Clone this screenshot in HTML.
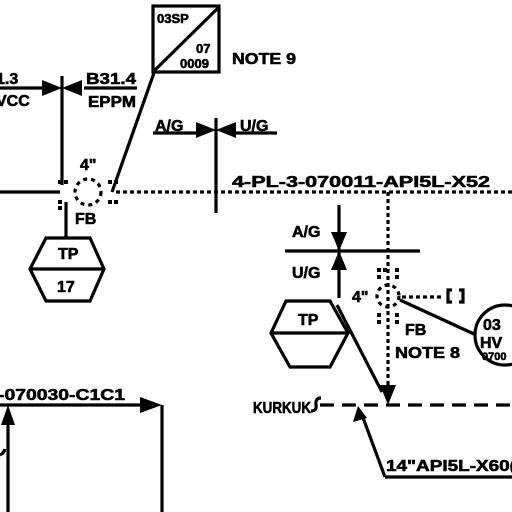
<!DOCTYPE html>
<html><head><style>
body{margin:0;background:#fff;}
svg{display:block;}
text{font-family:"Liberation Sans Narrow","Liberation Sans",sans-serif;font-weight:bold;fill:#000;stroke:#000;stroke-width:0.6;}
</style></head><body>
<svg width="512" height="512" viewBox="0 0 512 512" xmlns="http://www.w3.org/2000/svg">
<g stroke="#000" stroke-width="3.2" fill="none">
<line x1="0" y1="88" x2="44" y2="88"/>
<line x1="84" y1="88" x2="137" y2="88"/>
<line x1="62" y1="76" x2="62" y2="185"/>
<line x1="0" y1="192" x2="60" y2="192"/>
<line x1="116" y1="192" x2="512" y2="192" stroke-dasharray="4,3"/>
<circle cx="88" cy="192" r="13" stroke-dasharray="4,4"/>
<line x1="112" y1="192" x2="155" y2="70"/>
<rect x="153" y="6" width="66" height="66"/>
<line x1="155" y1="70" x2="218" y2="8"/>
<line x1="66" y1="202" x2="66" y2="238"/>
<polygon points="46,238 90,238 104,269 90,301 46,301 30,269"/>
<line x1="30" y1="269" x2="104" y2="269"/>
<line x1="216" y1="118" x2="216" y2="213"/>
<line x1="153" y1="133" x2="196" y2="133"/>
<line x1="236" y1="133" x2="277" y2="133"/>
<line x1="339" y1="205" x2="339" y2="298"/>
<line x1="285" y1="251" x2="420" y2="251"/>
<line x1="388" y1="192" x2="388" y2="392" stroke-dasharray="4,3"/>
<circle cx="388" cy="296" r="11" stroke-dasharray="4,4"/>
<line x1="402" y1="297" x2="442" y2="297" stroke-dasharray="4,3"/>
<path d="M452,290 h-4 v12 h4 M459,290 h4 v12 h-4"/>
<line x1="400" y1="300" x2="474" y2="334"/>
<circle cx="505" cy="335" r="30"/>
<polygon points="286,301 330,301 348,333 330,367 290,367 271,333"/>
<line x1="271" y1="333" x2="348" y2="333"/>
<line x1="337" y1="305" x2="382" y2="392"/>
<line x1="320" y1="405" x2="512" y2="405" stroke-dasharray="14,8"/>
<line x1="362" y1="415" x2="385" y2="477"/>
<line x1="385" y1="477" x2="512" y2="477"/>
<line x1="0" y1="405" x2="142" y2="405"/>
<line x1="162" y1="405" x2="162" y2="512"/>
<line x1="8" y1="420" x2="8" y2="512"/>
<path d="M0,455 q4,-2 5,-6"/>
<path d="M321,398 q-6,0 -5,7 q1,6 -5,6" />
</g>
<g fill="#000">
<polygon points="42,80 62,88 42,96"/>
<polygon points="82,80 62,88 82,96"/>
<polygon points="196,122 216,130 196,138"/>
<polygon points="236,122 216,130 236,138"/>
<polygon points="331,232 347,232 339,251"/>
<polygon points="331,270 347,270 339,251"/>
<polygon points="380,385 396,385 388,405"/>
<polygon points="358,406 353,422 367,418"/>
<polygon points="140,397 162,405 140,413"/>
<polygon points="1,425 15,425 8,405"/>
</g>
<g fill="#000" stroke="none">
<rect x="58" y="180" width="4" height="4"/><rect x="64" y="180" width="4" height="4"/>
<rect x="58" y="200" width="4" height="4"/><rect x="58" y="206" width="4" height="4"/>
<rect x="108" y="180" width="4" height="4"/><rect x="114" y="180" width="4" height="4"/>
<rect x="108" y="200" width="4" height="4"/><rect x="114" y="200" width="4" height="4"/>
<rect x="377" y="268" width="4" height="4"/><rect x="383" y="268" width="4" height="4"/><rect x="395" y="268" width="4" height="4"/>
<rect x="377" y="275" width="4" height="4"/><rect x="395" y="275" width="4" height="4"/>
<rect x="377" y="313" width="4" height="4"/><rect x="395" y="313" width="4" height="4"/>
<rect x="377" y="320" width="4" height="4"/><rect x="395" y="320" width="4" height="4"/>
</g>
<g font-size="16">
<text x="-4" y="84">1.3</text>
<text x="-4" y="106">VCC</text>
<text x="86" y="84" textLength="50" lengthAdjust="spacingAndGlyphs">B31.4</text>
<text x="88" y="107" textLength="48" lengthAdjust="spacingAndGlyphs">EPPM</text>
<text x="157" y="23" font-size="13">03SP</text>
<text x="196" y="53" font-size="13">07</text>
<text x="180" y="68" font-size="13">0009</text>
<text x="232" y="64" textLength="64" lengthAdjust="spacingAndGlyphs">NOTE 9</text>
<text x="80" y="170">4"</text>
<text x="75" y="224">FB</text>
<text x="58" y="259">TP</text>
<text x="57" y="292">17</text>
<text x="155" y="131">A/G</text>
<text x="240" y="131">U/G</text>
<text x="232" y="187" textLength="258" lengthAdjust="spacingAndGlyphs">4-PL-3-070011-API5L-X52</text>
<text x="292" y="237">A/G</text>
<text x="292" y="278">U/G</text>
<text x="352" y="302">4"</text>
<text x="405" y="335">FB</text>
<text x="395" y="358" textLength="65" lengthAdjust="spacingAndGlyphs">NOTE 8</text>
<text x="298" y="325">TP</text>
<text x="483" y="330">03</text>
<text x="480" y="348">HV</text>
<text x="482" y="360" font-size="11">0700</text>
<text x="253" y="413" textLength="58" lengthAdjust="spacingAndGlyphs">KURKUK</text>
<text x="386" y="471" textLength="130" lengthAdjust="spacingAndGlyphs">14"API5L-X60(</text>
<text x="-2" y="400" textLength="127" lengthAdjust="spacingAndGlyphs">-070030-C1C1</text>
</g>
</svg>
</body></html>
